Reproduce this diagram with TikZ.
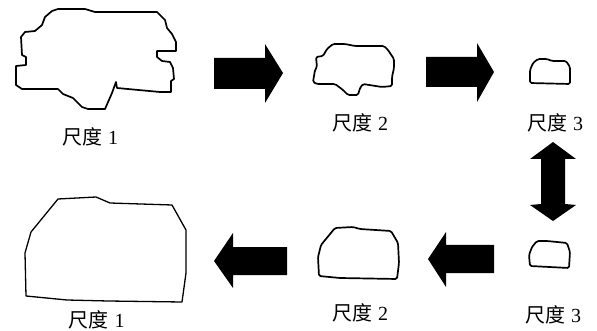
\documentclass[tikz,border=0pt]{standalone}
\usepackage{fontspec}
\setmainfont{Liberation Serif}
\newfontfamily\cjk{Noto Sans CJK SC}
\tikzset{
  outline/.style={draw=black,line width=1.3pt,line join=round,fill=white},
  thick outline/.style={draw=black,line width=1.7pt,line join=round,fill=white},
  soft/.style={rounded corners=1.5pt},
  block/.style={fill=black,draw=none},
  caption/.style={inner sep=0pt,font=\fontsize{20}{24}\selectfont}
}
\newcommand{\scalelabel}[1]{{\cjk 尺度}\hspace{0.3em}#1}
\begin{document}
\begin{tikzpicture}[x=1pt,y=-1pt]
\useasboundingbox (0,0) rectangle (597,331);
% Scale 1, detailed region
\draw[thick outline] (52,11) -- (58,9) -- (85,9) -- (95,12) -- (157,12) -- (165,20) -- (167,28) -- (172,34) -- (176,42) -- (176,51) -- (157,51) -- (157,57) -- (162,61) -- (170,62) -- (173,68) -- (174,79) -- (171,81) -- (171,92) -- (160,92) -- (117,88) -- (116,82) -- (112,93) -- (105,109) -- (88,109) -- (82,107) -- (73,98) -- (63,94) -- (58,89) -- (22,89) -- (16,85) -- (16,66) -- (26,65) -- (26,57) -- (22,55) -- (21,37) -- (25,32) -- (35,31) -- (42,25) -- (45,17) -- cycle;
% Scale 2, detailed region
\draw[thick outline,soft] (333,44) -- (345,44) -- (355,46) -- (384,46) -- (388,50) -- (394,59) -- (394,68) -- (392,77) -- (392,86) -- (382,87) -- (363,84) -- (360,88) -- (358,95) -- (348,95) -- (343,90) -- (335,84) -- (317,84) -- (313,82) -- (315,70) -- (317,67) -- (316,57) -- (323,56) -- (327,49) -- cycle;
% Scale 3, top row
\draw[thick outline,soft] (538,59) -- (547,59) -- (552,61) -- (566,61) -- (570,67) -- (570,84) -- (530,83) -- (530,70) -- (533,63) -- cycle;
% Scale 3, bottom row
\draw[thick outline,soft] (537,241) -- (547,241) -- (567,243) -- (570,252) -- (569,268) -- (530,266) -- (529,255) -- (532,247) -- cycle;
% Scale 2, smoothed region
\draw[thick outline,soft] (335,228) -- (353,227) -- (360,229) -- (391,231) -- (398,243) -- (399,263) -- (397,279) -- (340,278) -- (319,276) -- (318,257) -- (321,245) -- cycle;
% Scale 1, smoothed region
\draw[outline] (58,199) -- (96,197) -- (110,203) -- (172,205) -- (186,230) -- (186,273) -- (182,302) -- (108,301) -- (67,300) -- (26,296) -- (25,253) -- (31,232) -- cycle;
% Direction arrows
\draw[block] (214,58) -- (265,58) -- (265,44) -- (283,73) -- (265,103) -- (265,89) -- (214,89) -- cycle;
\draw[block] (426,57) -- (477,57) -- (477,43) -- (494,72) -- (477,102) -- (477,87) -- (426,87) -- cycle;
\draw[block] (553,142) -- (576,159) -- (565,159) -- (565,204) -- (576,205) -- (553,221) -- (530,205) -- (541,204) -- (541,159) -- (530,159) -- cycle;
\draw[block] (494,245) -- (446,245) -- (446,232) -- (428,259) -- (446,287) -- (446,273) -- (494,273) -- cycle;
\draw[block] (287,247) -- (233,247) -- (233,233) -- (214,261) -- (233,288) -- (233,275) -- (287,275) -- cycle;
% Captions
\node[caption] (s1t) at (90,137) {\scalelabel{1}};
\node[caption] (s2t) at (360,123) {\scalelabel{2}};
\node[caption] (s3t) at (555,123) {\scalelabel{3}};
\node[caption] (s3b) at (553,315) {\scalelabel{3}};
\node[caption] (s2b) at (360,313) {\scalelabel{2}};
\node[caption] (s1b) at (96.5,320) {\scalelabel{1}};
\end{tikzpicture}
\end{document}
